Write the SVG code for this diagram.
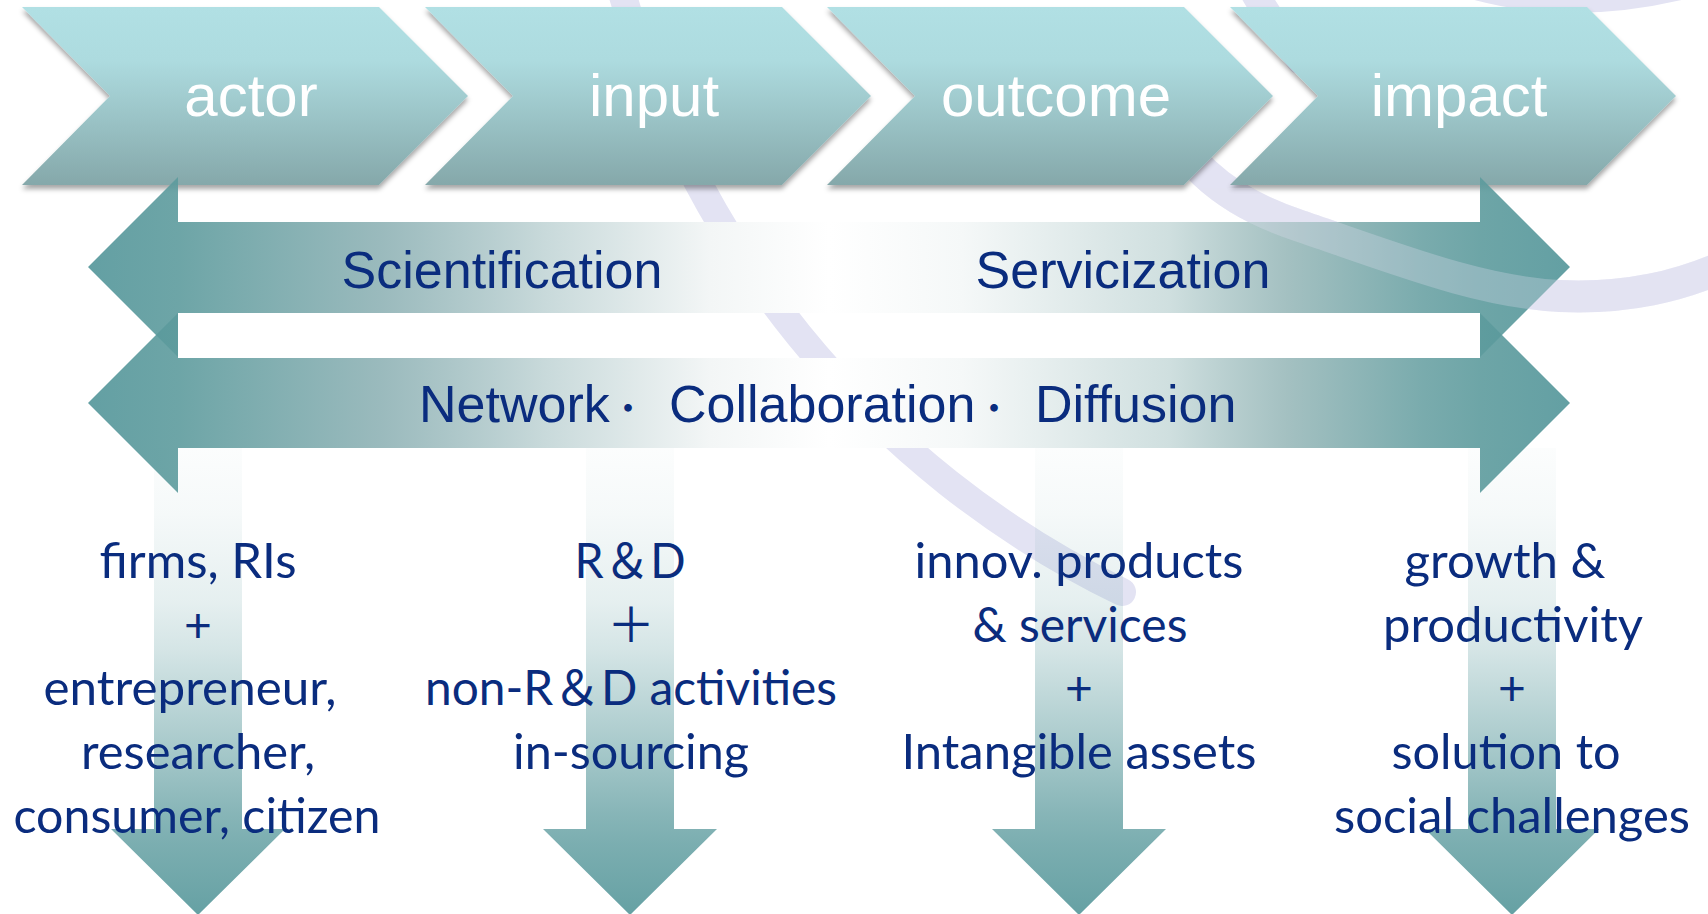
<svg xmlns="http://www.w3.org/2000/svg" xmlns:xlink="http://www.w3.org/1999/xlink" width="1708" height="914" viewBox="0 0 1708 914">
  <defs>
    <linearGradient id="chevFill" x1="0" y1="7" x2="0" y2="185" gradientUnits="userSpaceOnUse">
      <stop offset="0" stop-color="#B1E0E4"/>
      <stop offset="0.3" stop-color="#ADDBDF"/>
      <stop offset="1" stop-color="#85A8AA"/>
    </linearGradient>
    <filter id="shadow" x="-5%" y="-10%" width="110%" height="130%">
      <feDropShadow dx="0" dy="4" stdDeviation="2.5" flood-color="#000" flood-opacity="0.35"/>
    </filter>
    <linearGradient id="bandFill" x1="88" y1="0" x2="1570" y2="0" gradientUnits="userSpaceOnUse">
      <stop offset="0" stop-color="#529599" stop-opacity="0.9"/>
      <stop offset="0.061" stop-color="#5D9B9D" stop-opacity="0.9"/>
      <stop offset="0.2" stop-color="#90B3B6" stop-opacity="0.9"/>
      <stop offset="0.31" stop-color="#C9DADB"/>
      <stop offset="0.42" stop-color="#F3F6F6"/>
      <stop offset="0.5" stop-color="#FFFFFF"/>
      <stop offset="0.59" stop-color="#F5F8F8"/>
      <stop offset="0.73" stop-color="#CFDFDF"/>
      <stop offset="0.81" stop-color="#99B9BA" stop-opacity="0.9"/>
      <stop offset="0.9" stop-color="#6BA2A4" stop-opacity="0.9"/>
      <stop offset="0.94" stop-color="#5D9B9D" stop-opacity="0.9"/>
      <stop offset="1" stop-color="#529599" stop-opacity="0.9"/>
    </linearGradient>
    <linearGradient id="downFill" x1="0" y1="448" x2="0" y2="914" gradientUnits="userSpaceOnUse">
      <stop offset="0" stop-color="#5E9C9F" stop-opacity="0.02"/>
      <stop offset="0.14" stop-color="#5E9C9F" stop-opacity="0.06"/>
      <stop offset="0.33" stop-color="#5E9C9F" stop-opacity="0.16"/>
      <stop offset="0.43" stop-color="#5E9C9F" stop-opacity="0.26"/>
      <stop offset="0.64" stop-color="#5E9C9F" stop-opacity="0.54"/>
      <stop offset="0.78" stop-color="#5E9C9F" stop-opacity="0.74"/>
      <stop offset="0.815" stop-color="#5E9C9F" stop-opacity="0.78"/>
      <stop offset="0.85" stop-color="#5E9C9F" stop-opacity="0.82"/>
      <stop offset="1" stop-color="#5E9C9F" stop-opacity="0.95"/>
    </linearGradient>
    <clipPath id="belowChevrons">
      <rect x="0" y="188" width="1708" height="726"/>
    </clipPath>
    <path id="arcA" d="M 615,-34 A 952 952 0 0 0 1122,592"/>
    <path id="arcB" d="M 1140,80 C 1180,160 1220,200 1300,226 C 1400,260 1480,292 1560,296 C 1630,299 1680,285 1720,268"/>
    <path id="arcB2" d="M 1245,-25 Q 1262,10 1300,60"/>
    <path id="arcC" d="M 1430,-30 Q 1560,25 1720,-25"/>
    <style>
      .chev { fill: url(#chevFill); filter: url(#shadow); }
      .chev-label { font-family: "Liberation Sans", Arial, sans-serif; font-size: 60px; fill: #FFFFFF; text-anchor: middle; }
      .band { fill: url(#bandFill); }
      .band-label { font-family: "Liberation Sans", Arial, "Noto Sans CJK JP", sans-serif; font-size: 52px; fill: #0A2C7E; }
      .dot { font-family: "Noto Sans CJK JP", sans-serif; font-size: 36px; }
      .down { fill: url(#downFill); }
      .item { font-family: Lato, "Noto Sans CJK JP", sans-serif; font-size: 48px; fill: #0A2C7E; text-anchor: middle; }
      .arc { fill: none; stroke: #E3E3F3; stroke-width: 28; stroke-linecap: round; }
      .arc-wide { stroke-width: 32; }
    </style>
  </defs>

  <rect x="0" y="0" width="1708" height="914" fill="#FFFFFF"/>

  <g id="background-arcs">
    <use xlink:href="#arcA" href="#arcA" class="arc"/>
    <use xlink:href="#arcB" href="#arcB" class="arc arc-wide"/>
    <use xlink:href="#arcB2" href="#arcB2" class="arc"/>
    <use xlink:href="#arcC" href="#arcC" class="arc"/>
  </g>

  <g id="actor">
    <polygon class="chev" points="22,7 379,7 468,96 379,185 22,185 110,96"/>
    <text class="chev-label" x="251" y="116">actor</text>
  </g>
  <g id="input">
    <polygon class="chev" points="425,7 782,7 871,96 782,185 425,185 513,96"/>
    <text class="chev-label" x="654" y="116">input</text>
  </g>
  <g id="outcome">
    <polygon class="chev" points="827,7 1184,7 1273,96 1184,185 827,185 915,96"/>
    <text class="chev-label" x="1056" y="116">outcome</text>
  </g>
  <g id="impact">
    <polygon class="chev" points="1230,7 1587,7 1676,96 1587,185 1230,185 1318,96"/>
    <text class="chev-label" x="1459" y="116">impact</text>
  </g>

  <g id="connectors">
    <path class="down" d="M 154,448 H 242 V 829 H 285 L 198,915 L 111,829 H 154 Z"/>
    <path class="down" d="M 586,448 H 674 V 829 H 717 L 630,915 L 543,829 H 586 Z"/>
    <path class="down" d="M 1035,448 H 1123 V 829 H 1166 L 1079,915 L 992,829 H 1035 Z"/>
    <path class="down" d="M 1468,448 H 1556 V 829 H 1599 L 1512,915 L 1425,829 H 1468 Z"/>
  </g>

  <g id="scientification-servicization">
    <polygon class="band" points="88,267 178,177 178,222 1480,222 1480,177 1570,267 1480,357 1480,313 178,313 178,357"/>
  </g>
  <g id="network-collaboration-diffusion">
    <polygon class="band" points="88,403 178,313 178,358 1480,358 1480,313 1570,403 1480,493 1480,448 178,448 178,493"/>
  </g>

  <g id="arc-sheen" clip-path="url(#belowChevrons)" opacity="0.3">
    <use xlink:href="#arcB" href="#arcB" class="arc arc-wide"/>
  </g>

  <g id="band-labels">
    <text class="band-label" x="502" y="288" text-anchor="middle">Scientification</text>
    <text class="band-label" x="1123" y="288" text-anchor="middle">Servicization</text>
    <text class="band-label" x="419" y="422">Network<tspan class="dot" x="610">・ </tspan><tspan x="669">Collaboration</tspan><tspan class="dot" x="976">・ </tspan><tspan x="1035">Diffusion</tspan></text>
  </g>

  <g id="actor-items">
    <text class="item" x="198" y="578" textLength="197" lengthAdjust="spacingAndGlyphs">firms, RIs</text>
    <text class="item" x="198" y="642">+</text>
    <text class="item" x="190" y="705" textLength="293" lengthAdjust="spacingAndGlyphs">entrepreneur,</text>
    <text class="item" x="198" y="769" textLength="234" lengthAdjust="spacingAndGlyphs">researcher,</text>
    <text class="item" x="197" y="833" textLength="367" lengthAdjust="spacingAndGlyphs">consumer, citizen</text>
  </g>

  <g id="input-items">
    <text class="item" x="630" y="578" textLength="111" lengthAdjust="spacingAndGlyphs">R＆D</text>
    <text class="item" x="631" y="642">＋</text>
    <text class="item" x="631" y="705" textLength="412" lengthAdjust="spacingAndGlyphs">non-R＆D activities</text>
    <text class="item" x="631" y="769" textLength="236" lengthAdjust="spacingAndGlyphs">in-sourcing</text>
  </g>

  <g id="outcome-items">
    <text class="item" x="1079" y="578" textLength="329" lengthAdjust="spacingAndGlyphs">innov. products</text>
    <text class="item" x="1080" y="642" textLength="215" lengthAdjust="spacingAndGlyphs">&amp; services</text>
    <text class="item" x="1079" y="705">+</text>
    <text class="item" x="1079" y="769" textLength="355" lengthAdjust="spacingAndGlyphs">Intangible assets</text>
  </g>

  <g id="impact-items">
    <text class="item" x="1505" y="578" textLength="201" lengthAdjust="spacingAndGlyphs">growth &amp;</text>
    <text class="item" x="1513" y="642" textLength="260" lengthAdjust="spacingAndGlyphs">productivity</text>
    <text class="item" x="1512" y="705">+</text>
    <text class="item" x="1506" y="769" textLength="229" lengthAdjust="spacingAndGlyphs">solution to</text>
    <text class="item" x="1512" y="833" textLength="356" lengthAdjust="spacingAndGlyphs">social challenges</text>
  </g>
</svg>
